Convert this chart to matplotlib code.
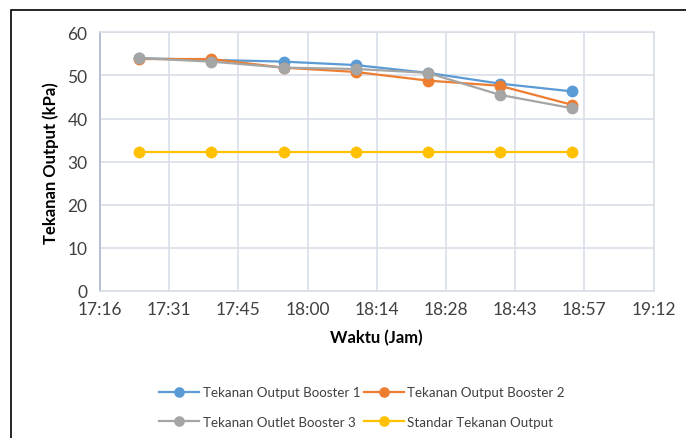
import matplotlib
matplotlib.use("Agg")
import matplotlib.pyplot as plt
from matplotlib.patches import Rectangle

# ---- data ----
times = ["17:25", "17:40", "17:55", "18:10", "18:25", "18:40", "18:55"]
booster1 = [54.0, 53.6, 53.2, 52.4, 50.6, 48.1, 46.3]
booster2 = [53.8, 53.8, 51.8, 50.8, 48.8, 47.6, 43.2]
booster3 = [54.0, 53.2, 51.8, 51.5, 50.6, 45.5, 42.4]
standar = [32.2, 32.2, 32.2, 32.2, 32.2, 32.2, 32.2]
x_tick_labels = ["17:16", "17:31", "17:45", "18:00", "18:14", "18:28", "18:43", "18:57", "19:12"]
y_ticks = [0, 10, 20, 30, 40, 50, 60]
series_names = ["Tekanan Output Booster 1", "Tekanan Output Booster 2",
                "Tekanan Outlet Booster 3", "Standar Tekanan Output"]
colors = ["#5B9BD5", "#ED7D31", "#A5A5A5", "#FFC000"]


def day_frac(t):
    h, m = t.split(":")
    return (int(h) * 60 + int(m)) / 1440.0


x = [day_frac(t) for t in times]
x_ticks = [0.72 + 0.01 * i for i in range(len(x_tick_labels))]

plt.rcParams["font.family"] = ["Lato", "DejaVu Sans"]

fig = plt.figure(figsize=(6.86, 4.39), dpi=100)
W, H = 686, 439
ax = fig.add_axes([100 / W, 1 - 292 / H, (653.5 - 100) / W, (292 - 33.3) / H])

handles = []
for vals, name, c in zip([booster1, booster2, booster3, standar], series_names, colors):
    h, = ax.plot(x, vals, color=c, lw=1.6, marker="o", markersize=8.5,
                 markeredgewidth=0, label=name, zorder=3)
    handles.append(h)

ax.set_xlim(0.72, 0.80)
ax.set_ylim(0, 60)
ax.set_xticks(x_ticks)
ax.set_xticklabels(x_tick_labels)
ax.set_yticks(y_ticks)
ax.grid(True, color="#D9DEE7", lw=1.2, zorder=0)
ax.tick_params(length=0, labelsize=12.5, colors="#404040", pad=7)
ax.tick_params(axis="y", pad=9)
for side in ["top", "right", "bottom"]:
    ax.spines[side].set_color("#D9DEE7")
    ax.spines[side].set_linewidth(1.2)
ax.spines["left"].set_color("#B4C0D6")
ax.spines["left"].set_linewidth(1.4)

ax.set_xlabel("Waktu (Jam)", fontsize=12, fontweight="bold", color="black", labelpad=9)
ax.set_ylabel("Tekanan Output (kPa)", fontsize=12, fontweight="bold", color="black", labelpad=6)

order = [0, 2, 1, 3]
fig.legend([handles[i] for i in order], [series_names[i] for i in order],
           ncol=2, loc="center", bbox_to_anchor=(362 / W, 1 - 408 / H),
           frameon=False, fontsize=9.6, handlelength=3.0, columnspacing=0.3,
           handletextpad=0.25, labelspacing=1.3, labelcolor="#404040",
           markerscale=0.9)

# outer border of the chart
fig.patches.append(Rectangle((11 / W, -0.1), 1.2, 1 - 11 / H + 0.1,
                             transform=fig.transFigure, fill=False,
                             edgecolor="black", lw=1.2))

fig.savefig("out.png", dpi=100)
